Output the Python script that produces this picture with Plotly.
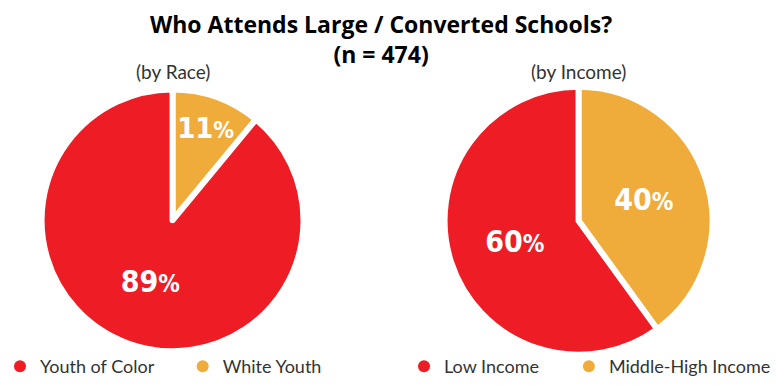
import plotly.graph_objects as go

race_labels = ["Youth of Color", "White Youth"]
race_values = [89, 11]
income_labels = ["Low Income", "Middle-High Income"]
income_values = [60, 40]
colors = ["#EE1C25", "#F0AC3A"]

title_text = "<b>Who Attends Large / Converted Schools?<br>(n = 474)</b>"
sub_left = "(by Race)"
sub_right = "(by Income)"

lab_font = dict(family="Liberation Sans Narrow, DejaVu Sans Condensed, Arial Narrow, sans-serif", size=30, color="white")

fig = go.Figure()

def pie(labels, values, dom_x, dom_y):
    # reversed so that the second category sits clockwise from 12 o'clock
    return go.Pie(
        labels=labels[::-1], values=values[::-1], sort=False, direction="clockwise", rotation=0,
        marker=dict(colors=colors[::-1], line=dict(color="white", width=6)),
        texttemplate="<b>%{value}<span style='font-size:24px'>%</span></b>",
        textposition="inside", insidetextorientation="horizontal",
        textfont=lab_font, showlegend=False, hoverinfo="label+percent",
        domain=dict(x=dom_x, y=dom_y),
    )

fig.add_trace(pie(race_labels, race_values, [0.0528, 0.393], [0.0805, 0.766]))
fig.add_trace(pie(income_labels, income_values, [0.5735, 0.9214], [0.0714, 0.7727]))

leg_x = [0.0, 0.236, 0.522, 0.735]
all_labels = race_labels + income_labels
for i, lab in enumerate(all_labels):
    lname = "legend" if i == 0 else f"legend{i+1}"
    fig.add_trace(go.Scatter(x=[None], y=[None], mode="markers", name=lab,
                             marker=dict(color=colors[i % 2], size=12, symbol="circle"),
                             legend=lname))

leg_common = dict(orientation="h", yanchor="middle", y=0.04, xanchor="left",
                  bgcolor="rgba(0,0,0,0)",
                  font=dict(family="Lato, sans-serif", size=18, color="#333333"))

legends = {}
for i, xv in enumerate(leg_x):
    lname = "legend" if i == 0 else f"legend{i+1}"
    legends[lname] = dict(**leg_common, x=xv)

sub_font = dict(family="Lato, sans-serif", size=19, color="#333333")

fig.update_layout(
    width=776, height=385,
    margin=dict(l=0, r=0, t=0, b=0),
    paper_bgcolor="white", plot_bgcolor="white",
    annotations=[
        dict(text=title_text, x=0.492, xref="paper", xanchor="center",
             y=0.985, yref="paper", yanchor="top", showarrow=False,
             font=dict(family="Open Sans, sans-serif", size=23, color="black")),
        dict(text=sub_left, x=0.223, xref="paper", xanchor="center",
             y=0.813, yref="paper", yanchor="middle", showarrow=False, font=sub_font),
        dict(text=sub_right, x=0.747, xref="paper", xanchor="center",
             y=0.813, yref="paper", yanchor="middle", showarrow=False, font=sub_font),
    ],
    xaxis=dict(visible=False), yaxis=dict(visible=False),
    **legends,
)

fig.write_html("out.html")
